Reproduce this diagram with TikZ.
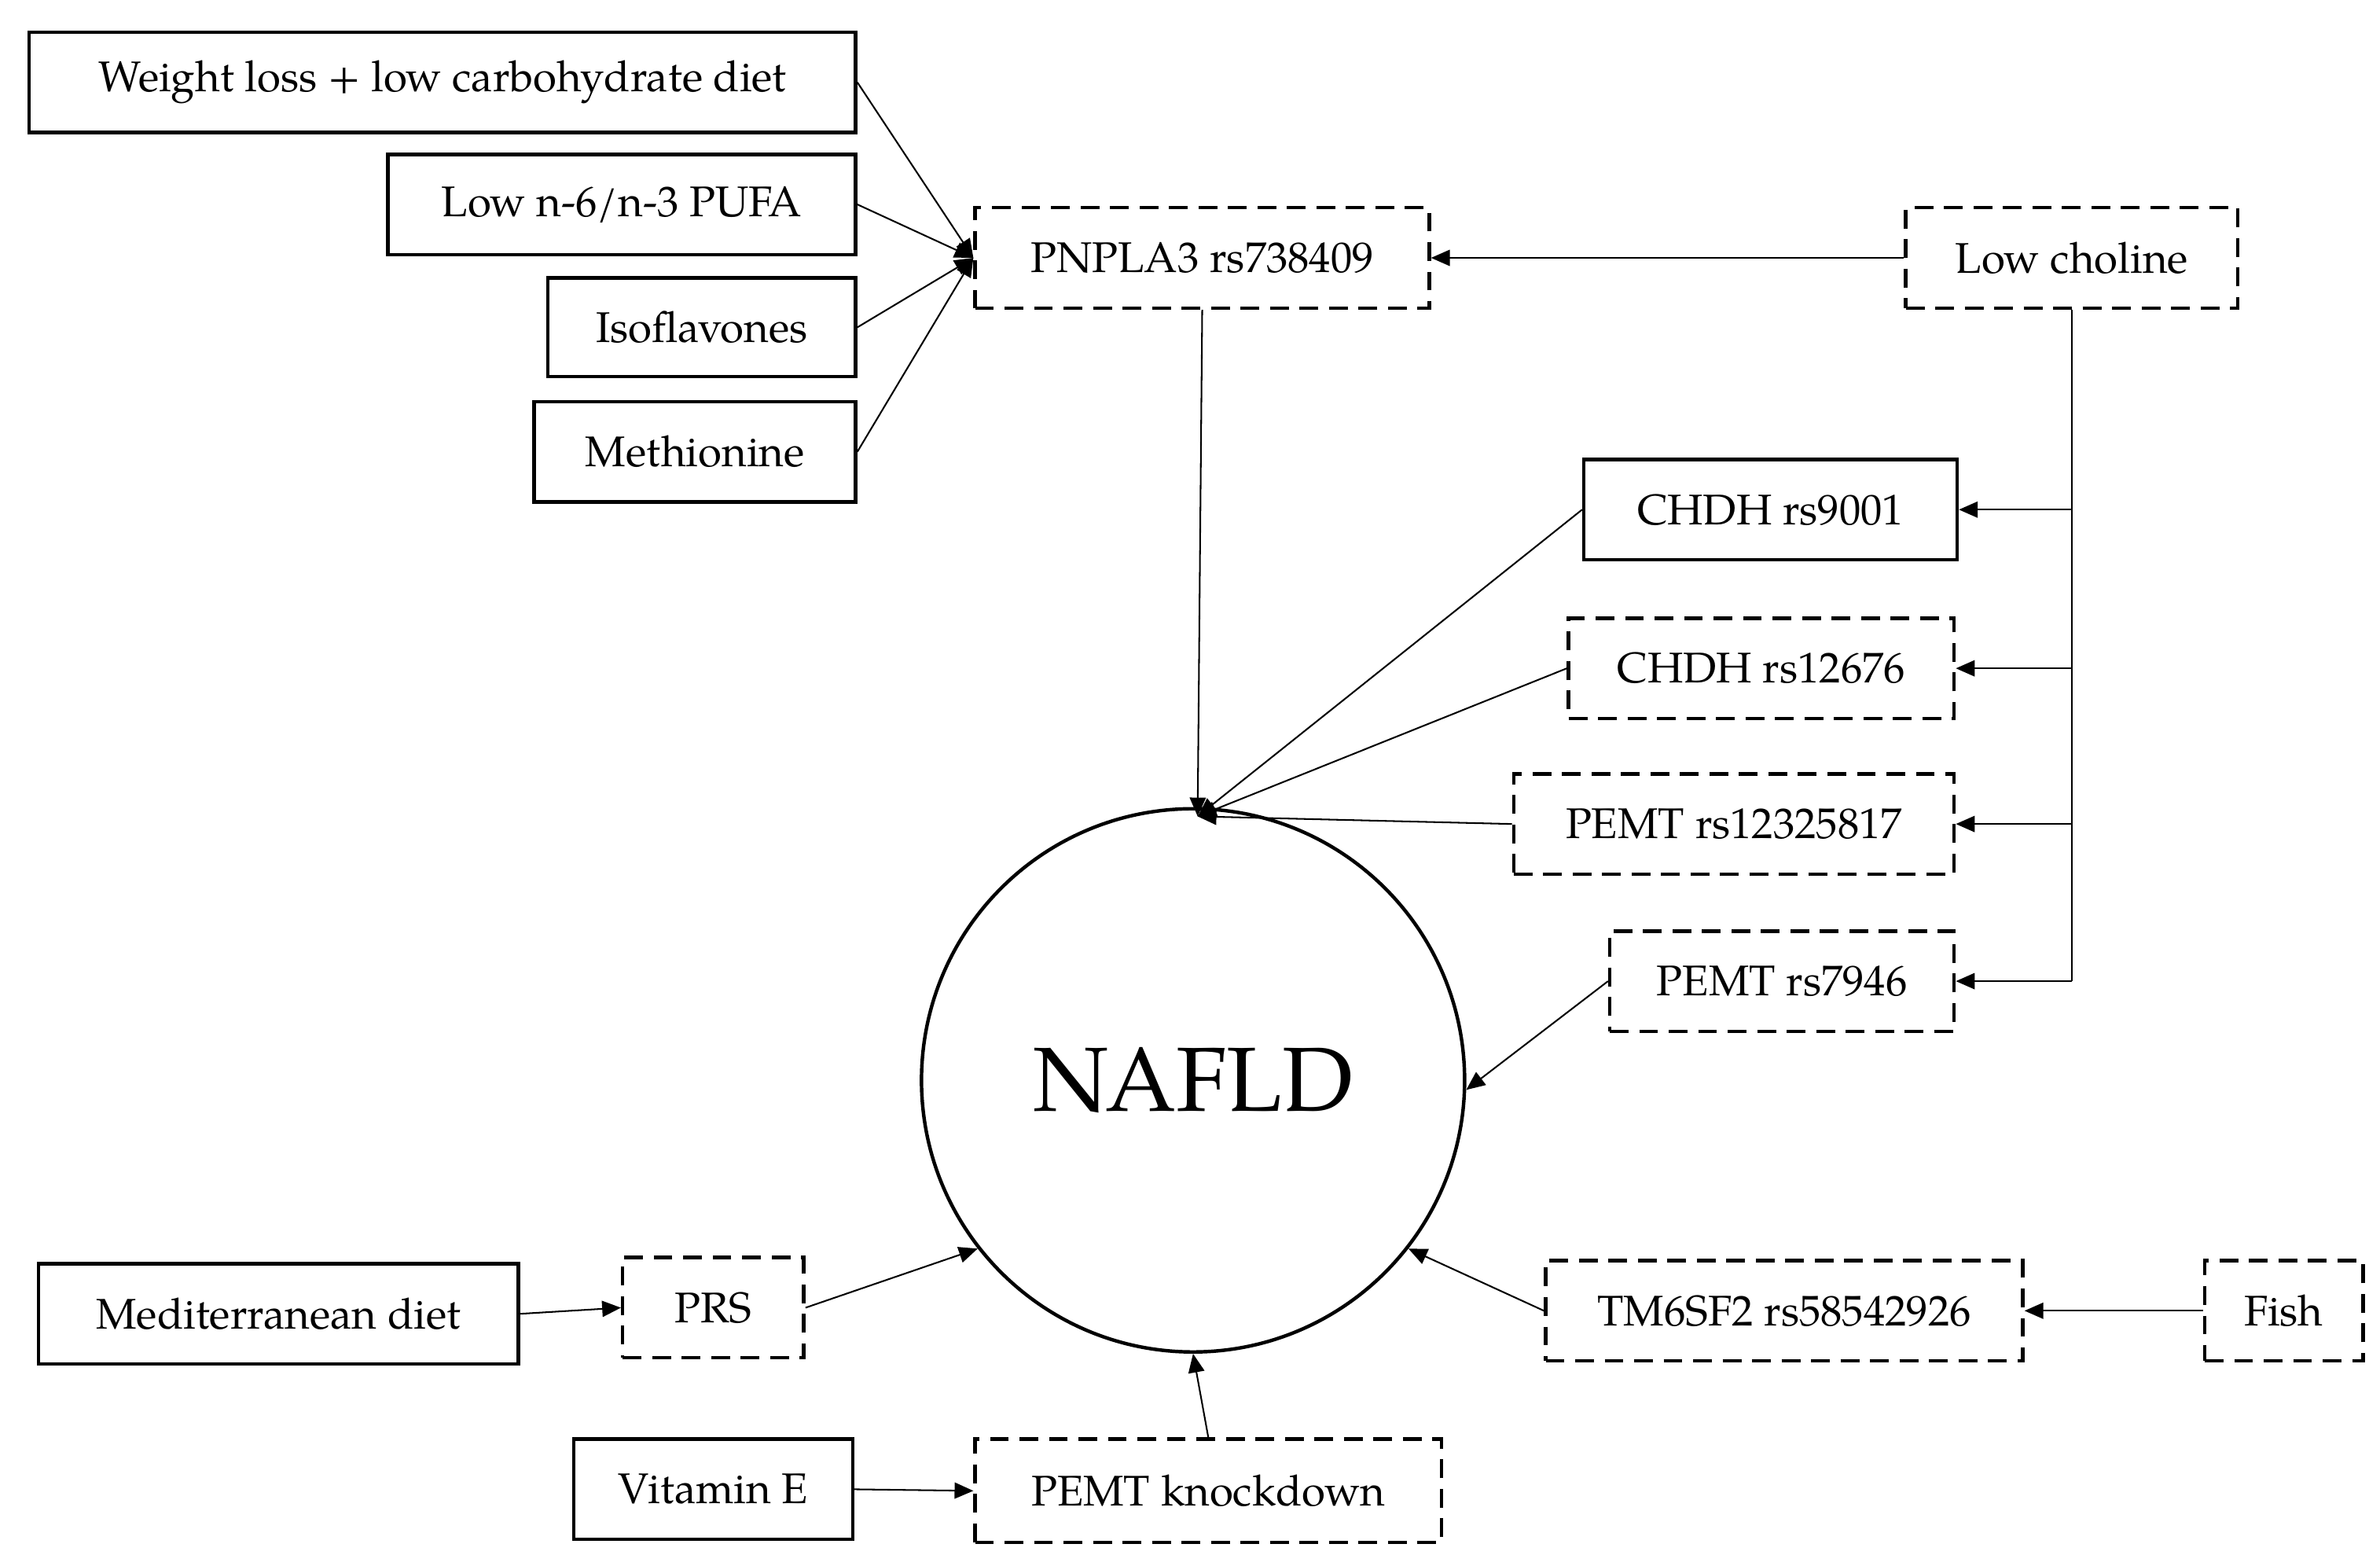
\documentclass[tikz,border=0pt]{standalone}
\usepackage{fontspec}
\setmainfont{TeX Gyre Pagella}
\usetikzlibrary{arrows.meta}
\begin{document}
\begin{tikzpicture}[x=0.02cm,y=-0.02cm,
  box/.style={draw,line width=1.3pt,inner sep=0pt,font=\fontsize{16}{18}\selectfont},
  dbox/.style={box,dash pattern=on 7pt off 4pt},
  arr/.style={-{Triangle[length=7pt,width=6pt]},line width=0.6pt}]
\useasboundingbox (0,0) rectangle (1560,1026);
\newcommand{\bx}[6]{\node[#1,minimum width=#4*0.02cm-1.3pt,minimum height=#5*0.02cm-1.3pt] (#2) at (#3) {#6};}
\bx{box}{wl}{290,54}{544}{68}{Weight loss + low carbohydrate diet}
\bx{box}{pu}{407.5,134}{309}{68}{Low n-6/n-3 PUFA}
\bx{box}{is}{460,214.5}{204}{67}{Isoflavones}
\bx{box}{me}{455.5,296}{213}{68}{Methionine}
\bx{dbox}{pn}{788,169}{300}{68}{PNPLA3 rs738409}
\bx{dbox}{lc}{1358,169}{220}{68}{Low choline}
\bx{box}{c1}{1160.5,334}{247}{68}{CHDH rs9001}
\bx{dbox}{c2}{1154.5,438}{255}{68}{CHDH rs12676}
\bx{dbox}{p1}{1136.5,540}{291}{68}{PEMT rs12325817}
\bx{dbox}{p2}{1168,643}{228}{68}{PEMT rs7946}
\bx{box}{md}{182.5,861}{317}{68}{Mediterranean diet}
\bx{dbox}{pr}{467.5,857}{121}{68}{PRS}
\bx{dbox}{tm}{1169.5,859}{315}{68}{TM6SF2 rs58542926}
\bx{dbox}{fi}{1497,859}{106}{68}{Fish}
\bx{box}{ve}{467.5,976}{185}{68}{Vitamin E}
\bx{dbox}{pk}{792,977}{308}{70}{PEMT knockdown}
\node[draw,circle,line width=1.3pt,minimum size=356*0.02cm,inner sep=0pt,font=\fontsize{34}{38}\selectfont] (na) at (782,708) {NAFLD};
\coordinate (m1) at (785,535);
\coordinate (j) at (1358,643);
\foreach \n in {wl,pu,is,me} \draw[arr] (\n.east) -- (pn.west);
\draw[arr] (lc.west) -- (pn.east);
\draw[arr] (pn.south) -- (m1);
\foreach \n in {c1,c2,p1} \draw[arr] (\n.west) -- (m1);
\draw[line width=0.6pt] (lc.south) -- (j);
\foreach \n in {c1,c2,p1,p2} \draw[arr] (lc.south |- \n.east) -- (\n.east);
\draw[arr] (p2.west) -- (na.-2);
\draw[arr] (md.east) -- (pr.west);
\draw[arr] (pr.east) -- (na.218);
\draw[arr] (tm.west) -- (na.-38);
\draw[arr] (fi.west) -- (tm.east);
\draw[arr] (ve.east) -- (pk.west);
\draw[arr] (pk.north) -- (na.south);
\end{tikzpicture}
\end{document}
